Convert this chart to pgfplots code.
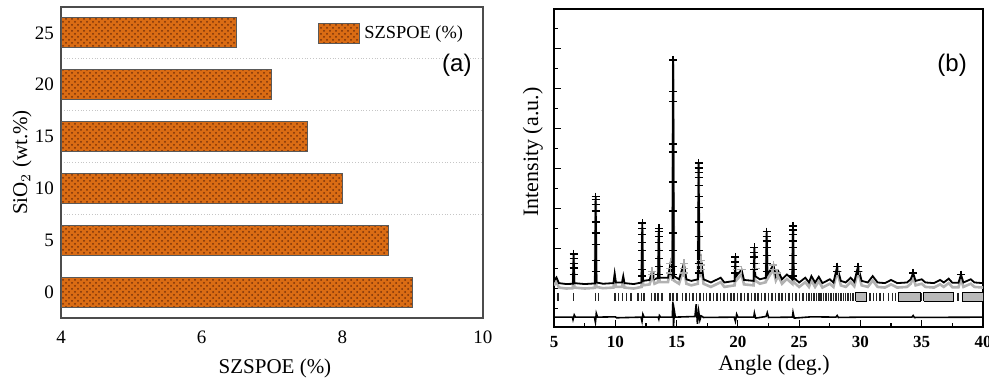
\documentclass[border=0pt]{standalone}
\usepackage{pgfplots}
\pgfplotsset{compat=1.18}
\usepackage{pgfplotstable}
\usepackage{fontspec}
\setmainfont{Liberation Serif}
\newfontfamily\arialf{Liberation Sans}
\usetikzlibrary{patterns}
\definecolor{barfill}{RGB}{218,108,20}
\definecolor{barpat}{RGB}{120,50,10}

\pgfplotstableread{
x y
5.0 14.5
5.2 15.6
5.4 13.8
6.0 13.5
6.54 13.6
6.6 23
6.66 13.8
7.5 13.5
8.34 13.7
8.4 41
8.46 14
9.0 13.6
9.85 13.8
9.95 16.8
10.05 14
10.55 14
10.65 16
10.75 13.8
11.5 13.5
12.14 14
12.2 32.7
12.26 14.5
12.8 14.8
13.0 17.5
13.2 15
13.49 15.5
13.55 31
13.61 15.5
14.3 15.5
14.5 20
14.66 16
14.72 84
14.78 16
15.2 15
15.6 20
15.8 15
16.2 14.5
16.74 15
16.8 51.6
16.86 17
17.0 21
17.2 15
17.8 14
18.6 15.5
18.9 14
19.74 14.5
19.8 22
19.86 16
20.3 18
20.5 14.8
21.29 14.5
21.35 25
21.41 16
21.8 15
22.29 15.5
22.35 30
22.41 16.5
22.9 19.5
23.1 16
23.3 17.5
23.6 15
24.0 16.5
24.44 15
24.5 31.8
24.56 15.5
25.0 14
25.5 15.5
25.8 14
26.0 16
26.3 14
26.6 15.8
26.9 13.8
27.5 15
27.8 14
28.1 19
28.4 14.5
28.8 14
29.2 15.5
29.5 14.2
29.8 19
30.1 14.5
30.6 14
31.0 16
31.4 14
32.0 13.8
32.5 14.8
33.0 13.8
33.8 14
34.1 15
34.3 17
34.5 14.5
35.0 15
35.3 14
36.0 13.8
36.5 14.8
36.8 14
37.2 15.2
37.5 13.9
38.0 13.9
38.2 16.5
38.4 14
39.0 15
39.3 14
40.0 13.8
}\calcdata

\pgfplotstableread{
x y
6.6 23
6.6 21.5
6.6 20
6.6 18.5
6.6 16.5
8.4 41
8.4 40
8.4 38.5
8.4 36.5
8.4 33
8.4 29.5
8.4 26
8.4 21
8.4 17.5
12.2 32.7
12.2 31
12.2 29
12.2 26.5
12.2 24
12.2 21
12.2 18
12.2 16
13.55 31
13.55 30
13.55 28.5
13.55 26.5
13.55 24
13.55 21.5
13.55 19
13.55 16.5
14.72 84
14.72 74
14.72 71
14.72 57.5
14.72 55
14.72 45.6
14.72 36.5
14.72 29.5
14.72 24
14.72 19
14.72 16.5
16.8 51.6
16.8 50
16.8 48.5
16.8 47
16.8 44.5
16.8 41
16.8 37.5
16.8 33
16.8 28.5
16.8 24
16.8 20
16.8 17
19.8 22
19.8 20.5
19.8 19
19.8 17
21.35 25
21.35 23.5
21.35 22
21.35 20
21.35 18
22.35 30
22.35 28.5
22.35 27
22.35 25
22.35 22.5
22.35 20
22.35 17.5
24.5 31.8
24.5 30.5
24.5 29
24.5 27
24.5 25
24.5 22.5
24.5 20
24.5 18
24.5 16
28.1 19
28.1 17.5
29.8 19
29.8 17.5
34.3 17
38.2 16.5
}\obsdata

\pgfplotstableread{
x y
13.0 17.5
13.0 16.5
13.2 16.5
14.5 20
14.5 18.5
14.5 17
15.6 20
15.6 18.5
15.6 17
17.0 21
17.0 19.5
17.0 18
19.9 19
19.9 18
20.3 18
21.45 20
21.45 18.5
22.9 19.5
22.9 18
23.2 17
28.2 17.5
29.9 17.5
}\obsgray

\pgfplotstableread{
x y
5.33 9.4
6.6 9.4
8.4 9.4
8.62 9.4
9.96 9.4
10.28 9.4
10.58 9.4
10.91 9.4
11.27 9.4
11.86 9.4
12.14 9.4
12.35 9.4
12.95 9.4
13.23 9.4
13.5 9.4
13.83 9.4
14.45 9.4
14.72 9.4
15.05 9.4
15.5 9.4
15.78 9.4
16.06 9.4
16.34 9.4
16.62 9.4
16.9 9.4
17.18 9.4
17.46 9.4
17.74 9.4
18.02 9.4
18.3 9.4
18.58 9.4
18.86 9.4
19.14 9.4
19.42 9.4
19.7 9.4
19.98 9.4
20.26 9.4
20.54 9.4
20.82 9.4
21.1 9.4
21.38 9.4
21.66 9.4
21.94 9.4
22.22 9.4
22.5 9.4
22.78 9.4
23.06 9.4
23.34 9.4
23.62 9.4
23.9 9.4
24.18 9.4
24.46 9.4
24.74 9.4
25.02 9.4
25.3 9.4
25.6 9.4
25.8 9.4
26.0 9.4
26.2 9.4
26.4 9.4
26.6 9.4
26.8 9.4
27.0 9.4
27.2 9.4
27.4 9.4
27.6 9.4
27.8 9.4
28.0 9.4
28.2 9.4
28.4 9.4
28.6 9.4
28.8 9.4
29.0 9.4
29.2 9.4
29.4 9.4
30.8 9.4
31.05 9.4
31.3 9.4
31.6 9.4
31.9 9.4
32.3 9.4
32.6 9.4
32.85 9.4
35.0 9.4
37.95 9.4
}\braggdata

\pgfplotstableread{
x y
5.0 3.1
6.5 3.1
6.55 2.3
6.65 3.8
6.75 3.1
8.3 3.1
8.38 1.5
8.45 4.3
8.55 3.1
10.0 3.2
10.1 2.9
12.1 3.1
12.18 1.8
12.25 4.0
12.35 3.1
13.5 3.1
13.55 2.5
13.6 3.6
13.7 3.1
14.65 3.1
14.7 8.0
14.75 0.3
14.82 5.0
14.9 3.1
16.5 3.3
16.6 7.2
16.7 1.0
16.8 5.0
16.9 2.2
17.0 3.5
17.2 3.0
19.7 3.1
19.8 1.8
19.9 4.0
20.0 3.1
21.3 3.1
21.35 4.4
21.45 2.8
22.3 3.3
22.4 4.5
22.5 3.0
24.45 3.1
24.5 4.6
24.6 2.8
26.0 3.2
28.0 3.1
28.1 3.6
28.2 3.0
30.0 3.1
34.2 3.1
34.3 3.6
34.4 3.0
40.0 3.1
}\diffdata

\begin{document}
\begin{tikzpicture}
\useasboundingbox (0,0) rectangle (494.5pt,189.5pt);
\begin{axis}[
  at={(30.5pt,30.5pt)}, anchor=south west,
  scale only axis, width=211pt, height=155.5pt,
  xmin=4, xmax=10, ymin=-0.5, ymax=5.5,
  xtick={4,6,8,10}, ytick={0,1,2,3,4,5}, yticklabels={0,5,10,15,20,25},
  minor ytick={1.5,2.5,3.5,4.5}, yminorgrids,
  minor grid style={densely dotted, gray!45, line width=0.4pt},
  major tick length=0pt, minor tick length=0pt,
  axis line style={draw=black!70, line width=0.6pt},
  ticklabel style={font=\fontsize{9.5}{11}\selectfont},
  /pgf/number format/assume math mode=true,
  xticklabel style={yshift=-3pt},
  xlabel={SZSPOE (\%)}, ylabel={SiO$_2$ (wt.\%)},
  label style={font=\fontsize{10.5}{12}\selectfont},
  xlabel style={at={(axis description cs:0.507,-0.1608)}, anchor=center},
  ylabel style={at={(axis description cs:-0.0924,0.5)}, anchor=center},
  legend style={draw=none, fill=none, at={(rel axis cs:0.609,0.955)}, anchor=north west,
    inner sep=0pt, font=\fontsize{9.2}{11}\selectfont, cells={anchor=west}},
  legend image code/.code={\draw[#1] (0pt,-5pt) rectangle (20.5pt,5pt);},
]
\addplot[xbar, bar width=15pt, draw=black!65, line width=0.5pt, fill=barfill,
  postaction={pattern=crosshatch dots, pattern color=barpat}]
  coordinates {(9.0,0) (8.65,1) (8.0,2) (7.5,3) (7.0,4) (6.5,5)};
\addlegendentry{SZSPOE (\%)}
\node[font=\arialf\fontsize{12}{14}\selectfont] at (rel axis cs:0.938,0.813) {(a)};
\end{axis}

\begin{axis}[
  at={(277pt,26pt)}, anchor=south west,
  scale only axis, width=214.5pt, height=159pt,
  xmin=5, xmax=40, ymin=0, ymax=100,
  xtick={5,10,15,20,25,30,35,40}, minor x tick num=1,
  ytick={12.2,24.7,37.3,49.9,62.5,75.0,87.6},
  minor ytick={5.9,18.4,31.0,43.6,56.2,68.7,81.3,93.9},
  yticklabels={}, tick pos=left, tick align=inside,
  major tick length=3.5pt, minor tick length=2pt,
  tick style={black, line width=0.6pt},
  axis line style={line width=0.9pt},
  xticklabel style={font=\bfseries\fontsize{8.5}{10}\selectfont, yshift=-1.2pt},
  /pgf/number format/assume math mode=true,
  xlabel={Angle (deg.)}, ylabel={Intensity (a.u.)},
  label style={font=\fontsize{11}{13}\selectfont},
  xlabel style={at={(axis description cs:0.513,-0.1195)}, anchor=center},
  ylabel style={at={(axis description cs:-0.049,0.55)}, anchor=center},
]
\addplot[gray!60, line width=1.3pt] table[x=x, y expr=\thisrow{y}-1.4] {\calcdata};
\addplot[black, line width=0.9pt] table[x=x,y=y] {\calcdata};
\addplot[only marks, mark=+, mark size=2pt, gray!65, line width=0.6pt] table[x=x,y=y] {\obsgray};
\addplot[only marks, mark=+, mark size=2pt, black, line width=0.7pt] table[x=x,y=y] {\obsdata};
\addplot[only marks, mark=|, mark size=2.15pt, black!85, line width=0.75pt] table[x=x,y=y] {\braggdata};
\addplot[fill=gray!55, draw=black, line width=0.5pt] coordinates {(29.6,8.1) (30.52,8.1) (30.52,10.7) (29.6,10.7) (29.6,8.1)};
\addplot[fill=gray!55, draw=black, line width=0.5pt] coordinates {(33.1,8.1) (34.88,8.1) (34.88,10.7) (33.1,10.7) (33.1,8.1)};
\addplot[fill=gray!55, draw=black, line width=0.5pt] coordinates {(35.15,8.1) (37.6,8.1) (37.6,10.7) (35.15,10.7) (35.15,8.1)};
\addplot[fill=gray!55, draw=black, line width=0.5pt] coordinates {(38.3,8.1) (40,8.1) (40,10.7) (38.3,10.7) (38.3,8.1)};
\addplot[black, line width=0.8pt] table[x=x,y=y] {\diffdata};
\node[font=\arialf\fontsize{12}{14}\selectfont] at (rel axis cs:0.928,0.824) {(b)};
\end{axis}
\end{tikzpicture}
\end{document}
